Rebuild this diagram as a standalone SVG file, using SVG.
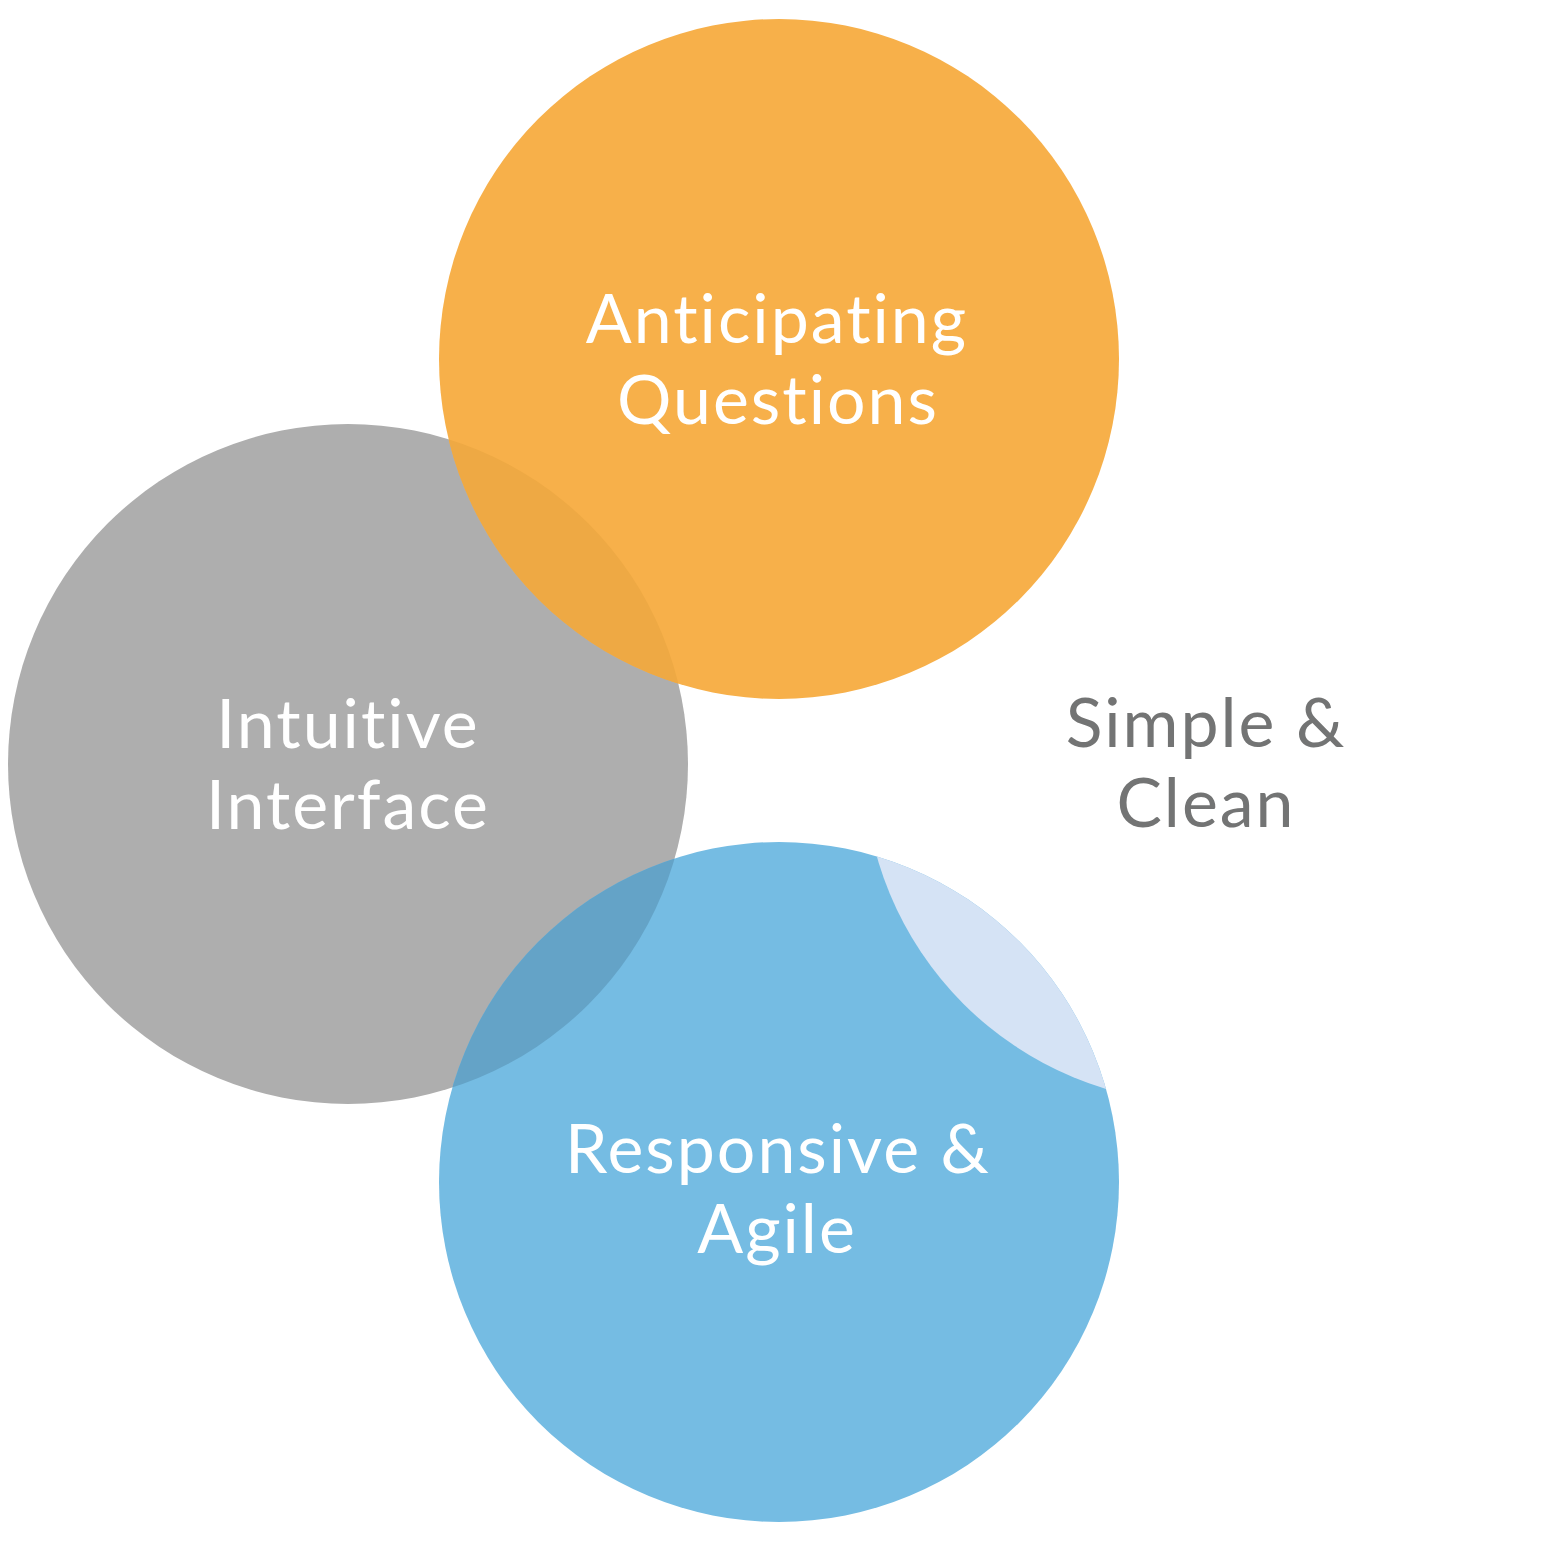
<svg xmlns="http://www.w3.org/2000/svg" width="1555" height="1555" viewBox="0 0 1555 1555">
<style>
.lbl{font-family:Lato,"Liberation Sans",sans-serif;font-size:68px;text-anchor:middle;letter-spacing:2px}
.w{fill:#ffffff}
.g{fill:#737474}
</style>
<defs>
<clipPath id="cOrange"><circle cx="779" cy="359" r="340"/></clipPath>
<clipPath id="cBlue"><circle cx="779" cy="1182" r="340"/></clipPath>
</defs>
<rect width="1555" height="1555" fill="#ffffff"/>
<g id="node-intuitive">
<circle cx="348" cy="764" r="340" fill="#aeaeae"/>
</g>
<g id="node-anticipating">
<circle cx="779" cy="359" r="340" fill="#f7b04a"/>
</g>
<g id="node-responsive">
<circle cx="779" cy="1182" r="340" fill="#75bce3"/>
</g>
<g id="overlaps">
<circle cx="348" cy="764" r="340" fill="#eea944" clip-path="url(#cOrange)"/>
<circle cx="348" cy="764" r="340" fill="#64a3c7" clip-path="url(#cBlue)"/>
<circle cx="1203" cy="764" r="339" fill="#d5e3f5" clip-path="url(#cBlue)"/>
</g>
<g id="node-simple">
<text class="lbl g" x="1206" y="747">Simple &amp;</text>
<text class="lbl g" x="1206" y="827">Clean</text>
</g>
<g id="labels">
<text class="lbl w" x="777" y="343">Anticipating</text>
<text class="lbl w" x="778" y="424">Questions</text>
<text class="lbl w" x="348" y="748">Intuitive</text>
<text class="lbl w" x="348" y="829">Interface</text>
<text class="lbl w" x="778" y="1173">Responsive &amp;</text>
<text class="lbl w" x="777" y="1253">Agile</text>
</g>
</svg>
